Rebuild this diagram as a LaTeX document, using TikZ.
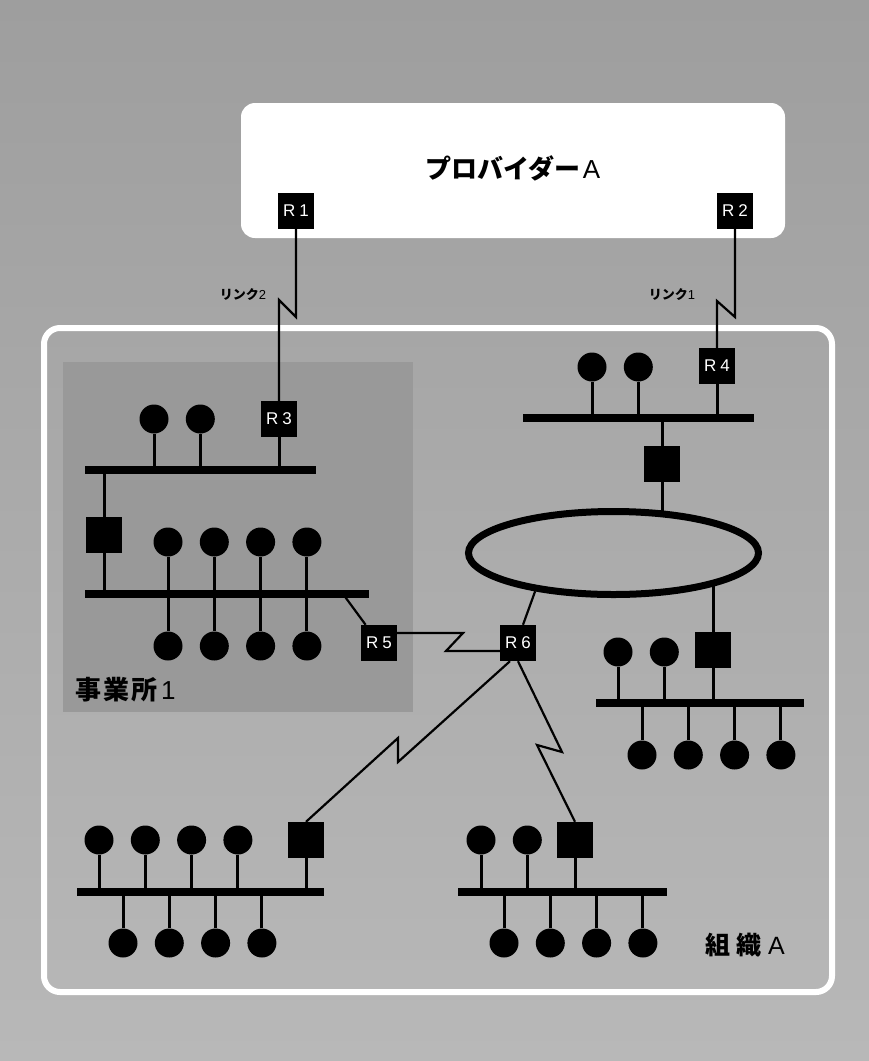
\documentclass[tikz,border=0pt]{standalone}
\usepackage{fontspec}
\setmainfont{Liberation Sans}
\newfontfamily\jpfont{Noto Sans CJK JP}
\usetikzlibrary{positioning,shapes.geometric}

\definecolor{bgdark}{RGB}{158,158,158}
\definecolor{bglight}{RGB}{190,190,190}
\definecolor{bgbottom}{RGB}{184,184,184}
\definecolor{officegray}{RGB}{153,153,153}

\tikzset{
  router/.style={rectangle, fill=black, minimum size=36pt, inner sep=0pt,
    text=white, font=\fontsize{17}{17}\selectfont},
  host/.style={circle, fill=black, minimum size=29pt, inner sep=0pt},
  bus/.style={line width=8pt},
  stem/.style={line width=3pt},
  link/.style={line width=2.2pt},
  label/.style={inner sep=0pt, text=black},
}

\newcommand{\rname}[1]{R\hspace{4pt}#1}

\begin{document}
\begin{tikzpicture}[x=1pt, y=-1pt, node distance=16.9pt]
    \useasboundingbox (0,0) rectangle (869,1061);
    \shade[top color=bgdark, middle color=bglight, bottom color=bgbottom] (0,0) rectangle (869,1061);

    \fill[white, rounded corners=14pt] (241,103) rectangle (785,238);
    \draw[white, line width=6pt, rounded corners=16pt] (44,328) rectangle (832,992);
    \fill[officegray] (63,362) rectangle (413,712);

    \node[label] (prov) at (513,168) {\fontsize{26}{26}\selectfont\jpfont\bfseries プロバイダー\hspace{2pt}\normalfont A};
    \node[label] (lk2) at (243,295) {\fontsize{13}{13}\selectfont\jpfont\bfseries リンク\normalfont 2};
    \node[label] (lk1) at (672,295) {\fontsize{13}{13}\selectfont\jpfont\bfseries リンク\normalfont 1};
    \node[label, anchor=west] (office) at (75,690) {\fontsize{26}{26}\selectfont\jpfont\bfseries 事\hspace{2pt}業\hspace{2pt}所\hspace{4pt}\normalfont 1};
    \node[label, anchor=west] (org) at (705,945) {\fontsize{25}{25}\selectfont\jpfont\bfseries 組\hspace{6pt}織\hspace{7pt}\normalfont A};

    \node[router] (r1) at (296,211) {\rname{1}};
    \node[router] (r2) at (735,211) {\rname{2}};
    \node[router] (r3) at (279,419) {\rname{3}};
    \node[router] (r4) at (717,366) {\rname{4}};
    \node[router] (r5) at (379,643) {\rname{5}};
    \node[router] (r6) at (518,643) {\rname{6}};

    \node[router] (g1) at (104,535) {};
    \node[router] (g2) at (662,464) {};
    \node[router] (g3) at (713,650) {};
    \node[router] (g4) at (306,840) {};
    \node[router] (g5) at (575,840) {};

    \node[draw, ellipse, line width=7pt, minimum width=290pt, minimum height=83pt, inner sep=0pt] (ring) at (613.5,553) {};

    % office 1
    \node[host] (a1) at (154,419) {};
    \node[host, right=of a1] (a2) {};
    \node[host] (b1) at (168,542) {};
    \node[host, right=of b1] (b2) {};
    \node[host, right=of b2] (b3) {};
    \node[host, right=of b3] (b4) {};
    \node[host] (c1) at (168,646) {};
    \node[host, right=of c1] (c2) {};
    \node[host, right=of c2] (c3) {};
    \node[host, right=of c3] (c4) {};
    \coordinate (busA1) at (85,470);
    \coordinate (busA2) at (316,470);
    \coordinate (busB1) at (85,594);
    \coordinate (busB2) at (369,594);
    \coordinate (busB3) at (343,594);

    % top right
    \node[host] (d1) at (592,367) {};
    \node[host, right=of d1] (d2) {};
    \coordinate (busC1) at (523,418);
    \coordinate (busC2) at (754,418);

    % right
    \node[host] (e1) at (618,652) {};
    \node[host, right=of e1] (e2) {};
    \node[host] (f1) at (642,755) {};
    \node[host, right=of f1] (f2) {};
    \node[host, right=of f2] (f3) {};
    \node[host, right=of f3] (f4) {};
    \coordinate (busD1) at (596,703);
    \coordinate (busD2) at (804,703);

    % bottom left
    \node[host] (k1) at (99,840) {};
    \node[host, right=of k1] (k2) {};
    \node[host, right=of k2] (k3) {};
    \node[host, right=of k3] (k4) {};
    \node[host] (l1) at (123,943) {};
    \node[host, right=of l1] (l2) {};
    \node[host, right=of l2] (l3) {};
    \node[host, right=of l3] (l4) {};
    \coordinate (busE1) at (77,892);
    \coordinate (busE2) at (324,892);

    % bottom middle
    \node[host] (m1) at (481,840) {};
    \node[host, right=of m1] (m2) {};
    \node[host] (n1) at (504,943) {};
    \node[host, right=of n1] (n2) {};
    \node[host, right=of n2] (n3) {};
    \node[host, right=of n3] (n4) {};
    \coordinate (busF1) at (458,892);
    \coordinate (busF2) at (667,892);

    % buses
    \draw[bus] (busA1) -- (busA2);
    \draw[bus] (busB1) -- (busB2);
    \draw[bus] (busC1) -- (busC2);
    \draw[bus] (busD1) -- (busD2);
    \draw[bus] (busE1) -- (busE2);
    \draw[bus] (busF1) -- (busF2);

    % stems
    \draw[stem] (a1) -- (a1 |- busA1);
    \draw[stem] (a2) -- (a2 |- busA1);
    \draw[stem] (r3) -- (r3 |- busA1);
    \draw[stem] (g1 |- busA1) -- (g1) -- (g1 |- busB1);
    \draw[stem] (b1) -- (c1);
    \draw[stem] (b2) -- (c2);
    \draw[stem] (b3) -- (c3);
    \draw[stem] (b4) -- (c4);
    \draw[link] (busB3) -- (r5);

    \draw[stem] (d1) -- (d1 |- busC1);
    \draw[stem] (d2) -- (d2 |- busC1);
    \draw[stem] (r4) -- (r4 |- busC1);
    \draw[stem] (g2 |- busC1) -- (g2) -- (g2 |- ring.41);

    \draw[stem] (g3 |- ring.-17) -- (g3) -- (g3 |- busD1);
    \draw[stem] (e1) -- (e1 |- busD1);
    \draw[stem] (e2) -- (e2 |- busD1);
    \draw[stem] (f1) -- (f1 |- busD1);
    \draw[stem] (f2) -- (f2 |- busD1);
    \draw[stem] (f3) -- (f3 |- busD1);
    \draw[stem] (f4) -- (f4 |- busD1);

    \draw[stem] (k1) -- (k1 |- busE1);
    \draw[stem] (k2) -- (k2 |- busE1);
    \draw[stem] (k3) -- (k3 |- busE1);
    \draw[stem] (k4) -- (k4 |- busE1);
    \draw[stem] (g4) -- (g4 |- busE1);
    \draw[stem] (l1) -- (l1 |- busE1);
    \draw[stem] (l2) -- (l2 |- busE1);
    \draw[stem] (l3) -- (l3 |- busE1);
    \draw[stem] (l4) -- (l4 |- busE1);

    \draw[stem] (m1) -- (m1 |- busF1);
    \draw[stem] (m2) -- (m2 |- busF1);
    \draw[stem] (g5) -- (g5 |- busF1);
    \draw[stem] (n1) -- (n1 |- busF1);
    \draw[stem] (n2) -- (n2 |- busF1);
    \draw[stem] (n3) -- (n3 |- busF1);
    \draw[stem] (n4) -- (n4 |- busF1);

    % serial links
    \coordinate (z1a) at (296,317);
    \coordinate (z1b) at (279,300);
    \coordinate (z2a) at (735,317);
    \coordinate (z2b) at (717,301);
    \coordinate (z3a) at (463,633);
    \coordinate (z3b) at (446,651);
    \coordinate (z4a) at (398,762);
    \coordinate (z4b) at (398,738);
    \coordinate (z5a) at (562,752);
    \coordinate (z5b) at (537,745);

    \draw[link] (r1) -- (z1a) -- (z1b) -- (r3);
    \draw[link] (r2) -- (z2a) -- (z2b) -- (r4);
    \draw[link] (r5.east |- z3a) -- (z3a) -- (z3b) -- (r6.west |- z3b);
    \draw[link] ([xshift=-8pt]r6.south) -- (z4a) -- (z4b) -- (g4.north);
    \draw[link] (r6.south) -- (z5a) -- (z5b) -- (g5.north);
    \draw[link] ([xshift=5pt]r6.north) -- (ring.-154);
\end{tikzpicture}
\end{document}
